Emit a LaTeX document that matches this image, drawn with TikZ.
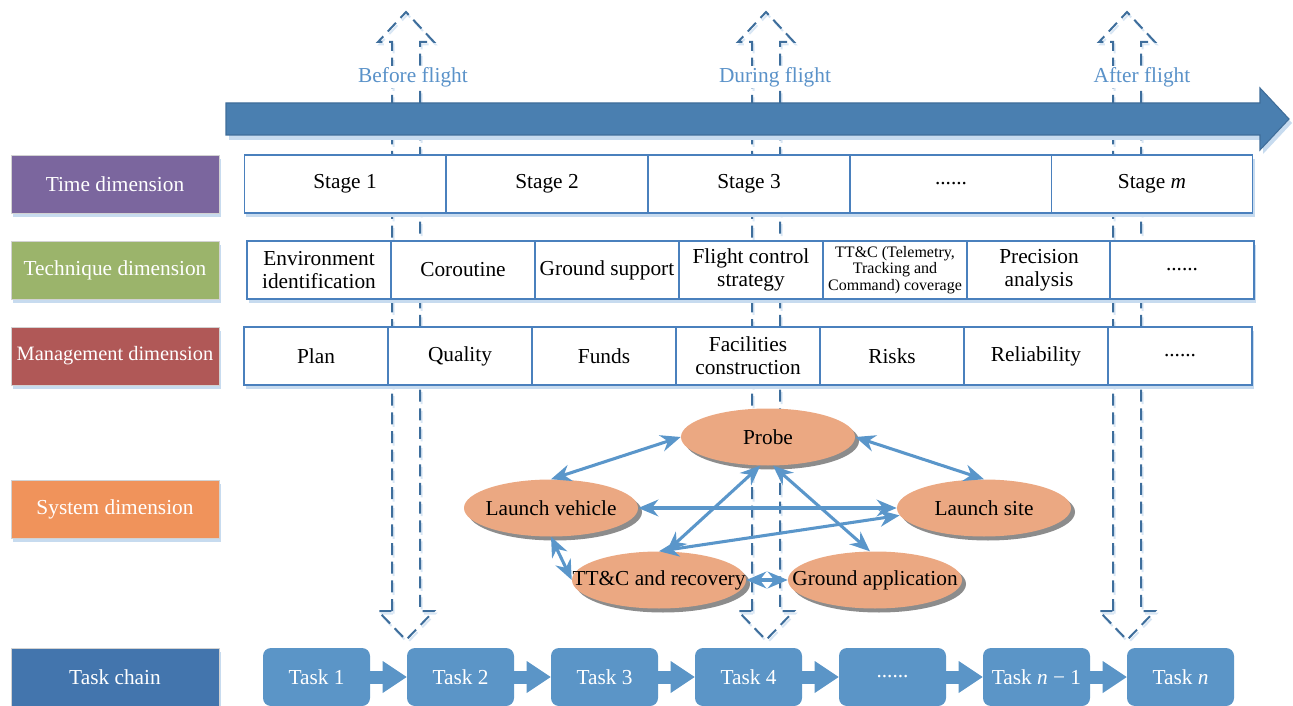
\documentclass[tikz,border=0pt]{standalone}
\usepackage{fontspec}
\setmainfont{Liberation Serif}
\usetikzlibrary{shapes.geometric, arrows.meta, shadows}

\definecolor{arrowblue}{HTML}{4A7FB0}
\definecolor{arrowedge}{HTML}{3F6D99}
\definecolor{dashblue}{HTML}{3E6E9C}
\definecolor{paleblue}{HTML}{C7DBEF}
\definecolor{labelblue}{HTML}{5A92C9}
\definecolor{celledge}{HTML}{4A80BD}
\definecolor{ellfill}{HTML}{EBA882}
\definecolor{ellshadow}{HTML}{8C8C8C}
\definecolor{connblue}{HTML}{5A96CA}
\definecolor{taskblue}{HTML}{5B95C7}
\definecolor{timepurple}{HTML}{7B669E}
\definecolor{techgreen}{HTML}{9BB46B}
\definecolor{mgmtred}{HTML}{B05857}
\definecolor{sysorange}{HTML}{F0935B}
\definecolor{chainblue}{HTML}{4375AD}

\begin{document}
\begin{tikzpicture}[x=0.75pt,y=0.75pt,yscale=-1,xscale=1,
  every node/.style={font=\fontsize{16}{17}\selectfont},
  dimbox/.style={draw=gray!35, line width=0.5pt, text=white, minimum width=156pt, minimum height=43.5pt, inner sep=0pt,
    drop shadow={shadow xshift=1.5pt, shadow yshift=-3pt, fill=paleblue, opacity=1}},
  cell/.style={draw=celledge, line width=1pt, fill=white, inner sep=0pt, align=center, minimum height=43.5pt,
    drop shadow={shadow xshift=1.5pt, shadow yshift=-3pt, fill=paleblue, opacity=1}},
  sysell/.style={ellipse, fill=ellfill, minimum width=130.5pt, minimum height=42.75pt, inner sep=-40pt,
    drop shadow={shadow xshift=3pt, shadow yshift=-3pt, fill=ellshadow, opacity=1}},
  conn/.style={draw=connblue, line width=2.3pt, <->, >={Stealth[length=15pt,width=12.5pt]}},
  taskbox/.style={rounded corners=6pt, fill=taskblue, text=white, minimum width=80.25pt, minimum height=43.5pt, inner sep=0pt},
  taskarrow/.style={draw=taskblue, line width=9.75pt, -{Triangle[length=18pt,width=24pt,line width=0pt]}},
  phasearrow/.style={draw=dashblue, line width=1.5pt, dash pattern=on 9pt off 5pt},
  phaseshadow/.style={draw=paleblue!70, line width=1.5pt, dash pattern=on 9pt off 5pt},
  phaselabel/.style={fill=white, text=labelblue, inner sep=1pt}
]
\useasboundingbox (0,0) rectangle (1293,706);

%Shape: hollow dashed phase arrows
\foreach \cx in {406,766,1127}{
  \draw[phaseshadow, shift={(1.5,2.5)}] ({\cx-14},611) -- ({\cx-14},42) -- ({\cx-28},42) -- (\cx,12) -- ({\cx+28},42) -- ({\cx+14},42) -- ({\cx+14},611) -- ({\cx+28},611) -- (\cx,640) -- ({\cx-28},611) -- cycle;
  \draw[phasearrow] ({\cx-14},611) -- ({\cx-14},42) -- ({\cx-28},42) -- (\cx,12) -- ({\cx+28},42) -- ({\cx+14},42) -- ({\cx+14},611) -- ({\cx+28},611) -- (\cx,640) -- ({\cx-28},611) -- cycle;
}

%Shape: time arrow
\fill[paleblue] (229,108) -- (1263,108) -- (1263,93) -- (1292,123) -- (1263,154) -- (1263,140) -- (229,140) -- cycle;
\draw[draw=arrowedge, fill=arrowblue, line width=0.8pt] (226,103) -- (1260,103) -- (1260,88) -- (1289,119) -- (1260,150) -- (1260,135) -- (226,135) -- cycle;

% Text Node
\node[phaselabel] (before) at (413,77) {Before flight};
\node[phaselabel] (during) at (775,77) {During flight};
\node[phaselabel] (after) at (1142,77) {After flight};

% dimension labels
\node[dimbox, fill=timepurple] (timedim) at (115,184) {Time dimension};
\node[dimbox, fill=techgreen] (techdim) at (115,270) {Technique dimension};
\node[dimbox, fill=mgmtred, font=\fontsize{15.3}{17}\selectfont] (mgmtdim) at (115,356) {Management dimension};
\node[dimbox, fill=sysorange] (sysdim) at (115,509) {System dimension};
\node[dimbox, fill=chainblue] (chaindim) at (115,677) {Task chain};

% time row
\node[cell, minimum width=151.2pt] (st1) at (345,184) {Stage 1};
\node[cell, minimum width=151.2pt] (st2) at (547,184) {Stage 2};
\node[cell, minimum width=151.2pt] (st3) at (749,184) {Stage 3};
\node[cell, minimum width=151.2pt] (st4) at (951,184) {......};
\node[cell, minimum width=151.2pt] (stm) at (1152,184) {Stage \textit{m}};

% technique row
\node[cell, minimum width=108pt] (tq1) at (319,270) {Environment\\identification};
\node[cell, minimum width=108pt] (tq2) at (463,270) {Coroutine};
\node[cell, minimum width=108pt] (tq3) at (607,270) {Ground support};
\node[cell, minimum width=108pt] (tq4) at (751,270) {Flight control\\strategy};
\node[cell, minimum width=108pt, font=\fontsize{12}{12.5}\selectfont] (tq5) at (895,270) {TT\&C (Telemetry,\\Tracking and\\Command) coverage};
\node[cell, minimum width=108pt] (tq6) at (1039,270) {Precision\\analysis};
\node[cell, minimum width=108pt] (tq7) at (1182,270) {......};

% management row
\node[cell, minimum width=108pt] (mg1) at (316,356) {Plan};
\node[cell, minimum width=108pt] (mg2) at (460,356) {Quality};
\node[cell, minimum width=108pt] (mg3) at (604,356) {Funds};
\node[cell, minimum width=108pt] (mg4) at (748,356) {Facilities\\construction};
\node[cell, minimum width=108pt] (mg5) at (892,356) {Risks};
\node[cell, minimum width=108pt] (mg6) at (1036,356) {Reliability};
\node[cell, minimum width=108pt] (mg7) at (1180,356) {......};

% system ellipses
\node[sysell] (probe) at (768,437) {Probe};
\node[sysell] (lv) at (551,508) {Launch vehicle};
\node[sysell] (site) at (984,508) {Launch site};
\node[sysell] (ttc) at (659,580) {TT\&C and recovery};
\node[sysell] (gapp) at (875,580) {Ground application};

\draw[conn] (probe.west) -- (lv.north);
\draw[conn] (probe.east) -- (site.north);
\draw[conn] (lv.east) -- (site.west);
\draw[conn] (ttc.north) -- (site.185);
\draw[conn] (probe.255) -- (ttc.75);
\draw[conn] (probe.280) -- (gapp.100);
\draw[conn] (lv.south) -- (ttc.west);
\draw[conn] (ttc.east) -- (gapp.west);

% task chain
\node[taskbox] (t1) at (316.5,677) {Task 1};
\node[taskbox] (t2) at (460.5,677) {Task 2};
\node[taskbox] (t3) at (604.5,677) {Task 3};
\node[taskbox] (t4) at (748.5,677) {Task 4};
\node[taskbox] (t5) at (892.5,677) {......};
\node[taskbox] (t6) at (1036.5,677) {Task \textit{n} − 1};
\node[taskbox] (t7) at (1180.5,677) {Task \textit{n}};

\draw[taskarrow] (t1.east) -- (t2.west);
\draw[taskarrow] (t2.east) -- (t3.west);
\draw[taskarrow] (t3.east) -- (t4.west);
\draw[taskarrow] (t4.east) -- (t5.west);
\draw[taskarrow] (t5.east) -- (t6.west);
\draw[taskarrow] (t6.east) -- (t7.west);

\end{tikzpicture}
\end{document}
